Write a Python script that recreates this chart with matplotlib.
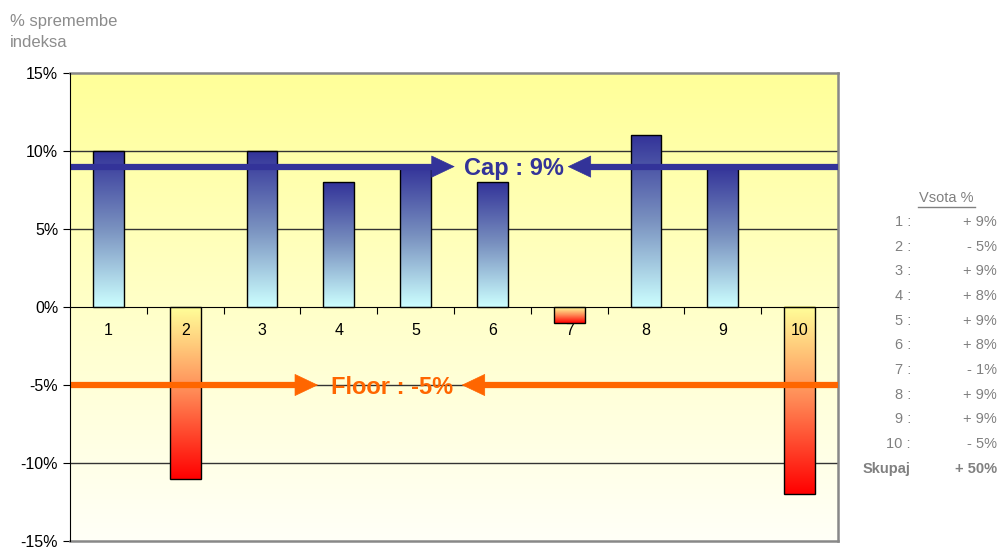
import numpy as np
import matplotlib
matplotlib.use("Agg")
import matplotlib.pyplot as plt
from matplotlib.colors import LinearSegmentedColormap

# data
periods = [1, 2, 3, 4, 5, 6, 7, 8, 9, 10]
changes = [10, -11, 10, 8, 9, 8, -1, 11, 9, -12]
cap = 9
floor = -5
yticks = [-15, -10, -5, 0, 5, 10, 15]
row_labels = ["1 :", "2 :", "3 :", "4 :", "5 :", "6 :", "7 :", "8 :", "9 :", "10 :"]
row_values = ["+ 9%", "- 5%", "+ 9%", "+ 8%", "+ 9%", "+ 8%", "- 1%", "+ 9%", "+ 9%", "- 5%"]
total_label = "Skupaj"
total_value = "+ 50%"

plt.rcParams['font.family'] = ['Liberation Sans', 'DejaVu Sans']

fig = plt.figure(figsize=(10.01, 5.48), dpi=100)
ax = fig.add_axes([70/1001, 7/548, 768/1001, 468/548])
ax.set_xlim(0.5, 10.5)
ax.set_ylim(-15, 15)

# background gradient
bg = LinearSegmentedColormap.from_list("bg", [(1, 1, 0.97), (1, 1, 0.6)])
grad = np.linspace(0, 1, 256).reshape(-1, 1)
ax.imshow(grad, cmap=bg, origin="lower", aspect="auto",
          extent=[0.5, 10.5, -15, 15], zorder=0)

# grid lines
for y in [10, 5, -5, -10]:
    ax.axhline(y, color="#333333", lw=1.0, zorder=1)

pos_cmap = LinearSegmentedColormap.from_list("pos", ["#ccffff", "#7a92c0", "#333399"])
neg_cmap = LinearSegmentedColormap.from_list("neg", ["#ff0000", "#ff8855", "#ffff99"])
w = 0.4
for x, v in zip(periods, changes):
    cm = pos_cmap if v > 0 else neg_cmap
    ax.imshow(grad, cmap=cm, origin="lower", aspect="auto",
              extent=[x - w/2, x + w/2, min(0, v), max(0, v)], zorder=2)
ax.bar(periods, changes, width=w, fill=False, edgecolor="black", lw=1.0, zorder=3)

# cap / floor lines
def limit_line(level, color, label, left_tip, right_tip, text_x):
    head = 0.22
    ax.plot([0.5, left_tip - head], [level, level], color=color, lw=4.5,
            zorder=4, solid_capstyle="butt")
    ax.plot([right_tip + head, 10.5], [level, level], color=color, lw=4.5,
            zorder=4, solid_capstyle="butt")
    for tip, tail in [(left_tip, left_tip - 0.4), (right_tip, right_tip + 0.4)]:
        ax.annotate("", xy=(tip, level), xytext=(tail, level),
                    arrowprops=dict(arrowstyle="-|>,head_length=0.8,head_width=0.38",
                                    color=color, lw=0.5, mutation_scale=20,
                                    shrinkA=0, shrinkB=0), zorder=5)
    ax.text(text_x, level - 0.15, label, color=color, fontsize=17,
            fontweight="bold", ha="center", va="center", zorder=6)

limit_line(cap, "#333399", "Cap : 9%", 5.51, 6.98, 6.28)
limit_line(floor, "#ff6600", "Floor : -5%", 3.73, 5.60, 4.69)

# axes styling
ax.spines["bottom"].set_position(("data", 0))
ax.spines["bottom"].set_color("black")
ax.spines["left"].set_color("black")
for s in ["top", "right"]:
    ax.spines[s].set_color("#888888")
    ax.spines[s].set_linewidth(1.8)
ax.spines["left"].set_zorder(7)
ax.spines["bottom"].set_zorder(7)
ax.plot([0.5, 10.5], [-15, -15], color="#888888", lw=1.8, zorder=7, clip_on=False)

ax.set_yticks(yticks)
ax.set_yticklabels([f"{t}%" for t in yticks], fontsize=11.5)
ax.tick_params(axis="y", direction="out", length=5, color="black")

ax.set_xticks(np.arange(1.5, 10.5, 1))
ax.set_xticklabels([])
ax.tick_params(axis="x", which="major", direction="out", length=5)
for p in periods:
    ax.annotate(str(p), xy=(p, 0), xytext=(0, -17), textcoords="offset points",
                ha="center", va="center", fontsize=11.5, zorder=8)

fig.text(10/1001, 1 - 32/548, "% spremembe\nindeksa", color="#8c8c8c",
         fontsize=12, ha="left", va="center", linespacing=1.55)

# side table
gray = "#808080"
fig.text(946/1001, 1 - 198/548, "Vsota %", color=gray, fontsize=10.5,
         ha="center", va="center")
fig.add_artist(plt.Line2D([918/1001, 975/1001], [1 - 207/548] * 2, color=gray, lw=1))
row_y = np.linspace(222, 444, len(row_labels))
for lbl, val, y in zip(row_labels, row_values, row_y):
    fig.text(911/1001, 1 - y/548, lbl, color=gray, fontsize=10.5, ha="right", va="center")
    fig.text(997/1001, 1 - y/548, val, color=gray, fontsize=10.5, ha="right", va="center")
fig.text(910/1001, 1 - 469/548, total_label, color=gray, fontsize=10.5,
         fontweight="bold", ha="right", va="center")
fig.text(997/1001, 1 - 469/548, total_value, color=gray, fontsize=10.5,
         fontweight="bold", ha="right", va="center")

fig.savefig("out.png", dpi=100)
